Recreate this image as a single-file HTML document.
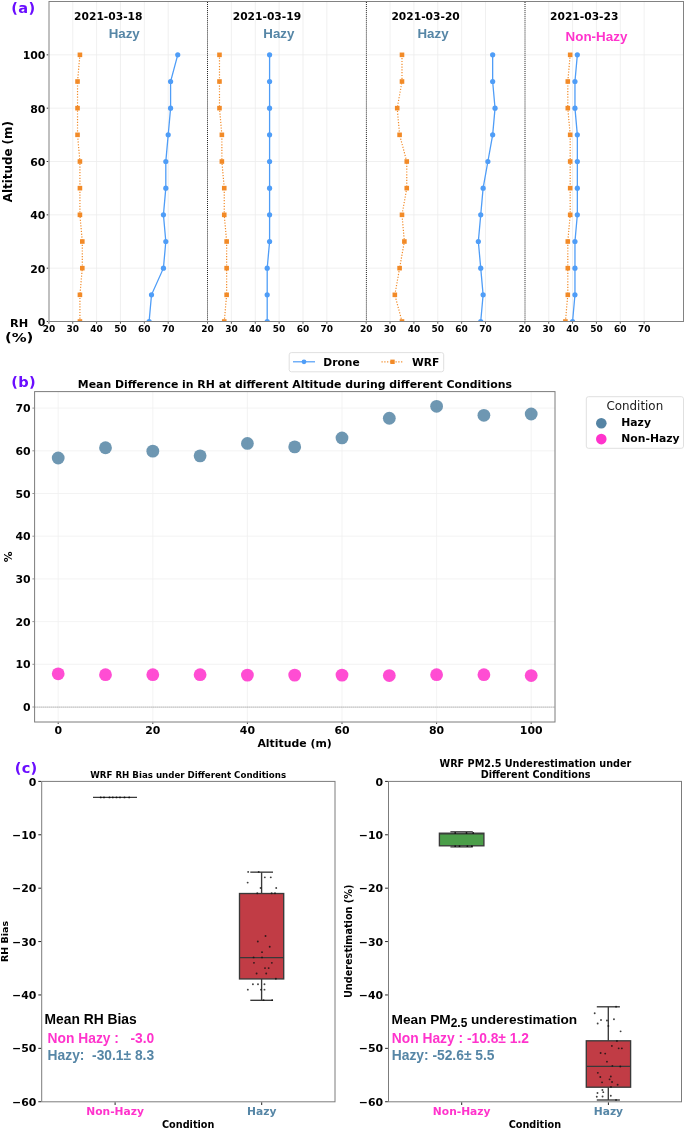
<!DOCTYPE html>
<html lang="en"><head><meta charset="utf-8"><title>RH and PM2.5 comparison figure</title>
<style>
html,body{margin:0;padding:0;background:#fff;}
body{width:685px;height:1128px;overflow:hidden;font-family:"DejaVu Sans","Liberation Sans",sans-serif;}
svg{display:block;}
</style></head><body>
<svg width="685" height="1128" viewBox="0 0 685 1128">
<rect x="0" y="0" width="685" height="1128" fill="#ffffff"/>
<clipPath id="ca"><rect x="48.9" y="1.5" width="634.60" height="320.00"/></clipPath>
<line x1="72.76" y1="1.50" x2="72.76" y2="321.50" stroke="#ececec" stroke-width="0.8" />
<line x1="96.62" y1="1.50" x2="96.62" y2="321.50" stroke="#ececec" stroke-width="0.8" />
<line x1="120.48" y1="1.50" x2="120.48" y2="321.50" stroke="#ececec" stroke-width="0.8" />
<line x1="144.34" y1="1.50" x2="144.34" y2="321.50" stroke="#ececec" stroke-width="0.8" />
<line x1="168.20" y1="1.50" x2="168.20" y2="321.50" stroke="#ececec" stroke-width="0.8" />
<line x1="231.41" y1="1.50" x2="231.41" y2="321.50" stroke="#ececec" stroke-width="0.8" />
<line x1="255.27" y1="1.50" x2="255.27" y2="321.50" stroke="#ececec" stroke-width="0.8" />
<line x1="279.13" y1="1.50" x2="279.13" y2="321.50" stroke="#ececec" stroke-width="0.8" />
<line x1="302.99" y1="1.50" x2="302.99" y2="321.50" stroke="#ececec" stroke-width="0.8" />
<line x1="326.85" y1="1.50" x2="326.85" y2="321.50" stroke="#ececec" stroke-width="0.8" />
<line x1="390.06" y1="1.50" x2="390.06" y2="321.50" stroke="#ececec" stroke-width="0.8" />
<line x1="413.92" y1="1.50" x2="413.92" y2="321.50" stroke="#ececec" stroke-width="0.8" />
<line x1="437.78" y1="1.50" x2="437.78" y2="321.50" stroke="#ececec" stroke-width="0.8" />
<line x1="461.64" y1="1.50" x2="461.64" y2="321.50" stroke="#ececec" stroke-width="0.8" />
<line x1="485.50" y1="1.50" x2="485.50" y2="321.50" stroke="#ececec" stroke-width="0.8" />
<line x1="548.71" y1="1.50" x2="548.71" y2="321.50" stroke="#ececec" stroke-width="0.8" />
<line x1="572.57" y1="1.50" x2="572.57" y2="321.50" stroke="#ececec" stroke-width="0.8" />
<line x1="596.43" y1="1.50" x2="596.43" y2="321.50" stroke="#ececec" stroke-width="0.8" />
<line x1="620.29" y1="1.50" x2="620.29" y2="321.50" stroke="#ececec" stroke-width="0.8" />
<line x1="644.15" y1="1.50" x2="644.15" y2="321.50" stroke="#ececec" stroke-width="0.8" />
<line x1="48.90" y1="268.17" x2="683.50" y2="268.17" stroke="#ececec" stroke-width="0.8" />
<line x1="48.90" y1="214.83" x2="683.50" y2="214.83" stroke="#ececec" stroke-width="0.8" />
<line x1="48.90" y1="161.50" x2="683.50" y2="161.50" stroke="#ececec" stroke-width="0.8" />
<line x1="48.90" y1="108.16" x2="683.50" y2="108.16" stroke="#ececec" stroke-width="0.8" />
<line x1="48.90" y1="54.83" x2="683.50" y2="54.83" stroke="#ececec" stroke-width="0.8" />
<g clip-path="url(#ca)">
<polyline points="79.92,321.50 79.92,294.83 82.30,268.17 82.30,241.50 79.92,214.83 79.92,188.16 79.92,161.50 77.53,134.83 77.53,108.16 77.53,81.50 79.92,54.83" fill="none" stroke="#f28a27" stroke-width="1.2" stroke-dasharray="1.2 1.6"/>
<rect x="77.62" y="319.20" width="4.6" height="4.6" fill="#f28a27"/>
<rect x="77.62" y="292.53" width="4.6" height="4.6" fill="#f28a27"/>
<rect x="80.00" y="265.87" width="4.6" height="4.6" fill="#f28a27"/>
<rect x="80.00" y="239.20" width="4.6" height="4.6" fill="#f28a27"/>
<rect x="77.62" y="212.53" width="4.6" height="4.6" fill="#f28a27"/>
<rect x="77.62" y="185.86" width="4.6" height="4.6" fill="#f28a27"/>
<rect x="77.62" y="159.20" width="4.6" height="4.6" fill="#f28a27"/>
<rect x="75.23" y="132.53" width="4.6" height="4.6" fill="#f28a27"/>
<rect x="75.23" y="105.86" width="4.6" height="4.6" fill="#f28a27"/>
<rect x="75.23" y="79.20" width="4.6" height="4.6" fill="#f28a27"/>
<rect x="77.62" y="52.53" width="4.6" height="4.6" fill="#f28a27"/>
<polyline points="149.11,321.50 151.50,294.83 163.43,268.17 165.81,241.50 163.43,214.83 165.81,188.16 165.81,161.50 168.20,134.83 170.59,108.16 170.59,81.50 177.74,54.83" fill="none" stroke="#4f9df7" stroke-width="1.3"/>
<circle cx="149.11" cy="321.50" r="2.6" fill="#4f9df7"/>
<circle cx="151.50" cy="294.83" r="2.6" fill="#4f9df7"/>
<circle cx="163.43" cy="268.17" r="2.6" fill="#4f9df7"/>
<circle cx="165.81" cy="241.50" r="2.6" fill="#4f9df7"/>
<circle cx="163.43" cy="214.83" r="2.6" fill="#4f9df7"/>
<circle cx="165.81" cy="188.16" r="2.6" fill="#4f9df7"/>
<circle cx="165.81" cy="161.50" r="2.6" fill="#4f9df7"/>
<circle cx="168.20" cy="134.83" r="2.6" fill="#4f9df7"/>
<circle cx="170.59" cy="108.16" r="2.6" fill="#4f9df7"/>
<circle cx="170.59" cy="81.50" r="2.6" fill="#4f9df7"/>
<circle cx="177.74" cy="54.83" r="2.6" fill="#4f9df7"/>
<polyline points="224.25,321.50 226.64,294.83 226.64,268.17 226.64,241.50 224.25,214.83 224.25,188.16 221.87,161.50 221.87,134.83 219.48,108.16 219.48,81.50 219.48,54.83" fill="none" stroke="#f28a27" stroke-width="1.2" stroke-dasharray="1.2 1.6"/>
<rect x="221.95" y="319.20" width="4.6" height="4.6" fill="#f28a27"/>
<rect x="224.34" y="292.53" width="4.6" height="4.6" fill="#f28a27"/>
<rect x="224.34" y="265.87" width="4.6" height="4.6" fill="#f28a27"/>
<rect x="224.34" y="239.20" width="4.6" height="4.6" fill="#f28a27"/>
<rect x="221.95" y="212.53" width="4.6" height="4.6" fill="#f28a27"/>
<rect x="221.95" y="185.86" width="4.6" height="4.6" fill="#f28a27"/>
<rect x="219.57" y="159.20" width="4.6" height="4.6" fill="#f28a27"/>
<rect x="219.57" y="132.53" width="4.6" height="4.6" fill="#f28a27"/>
<rect x="217.18" y="105.86" width="4.6" height="4.6" fill="#f28a27"/>
<rect x="217.18" y="79.20" width="4.6" height="4.6" fill="#f28a27"/>
<rect x="217.18" y="52.53" width="4.6" height="4.6" fill="#f28a27"/>
<polyline points="267.20,321.50 267.20,294.83 267.20,268.17 269.59,241.50 269.59,214.83 269.59,188.16 269.59,161.50 269.59,134.83 269.59,108.16 269.59,81.50 269.59,54.83" fill="none" stroke="#4f9df7" stroke-width="1.3"/>
<circle cx="267.20" cy="321.50" r="2.6" fill="#4f9df7"/>
<circle cx="267.20" cy="294.83" r="2.6" fill="#4f9df7"/>
<circle cx="267.20" cy="268.17" r="2.6" fill="#4f9df7"/>
<circle cx="269.59" cy="241.50" r="2.6" fill="#4f9df7"/>
<circle cx="269.59" cy="214.83" r="2.6" fill="#4f9df7"/>
<circle cx="269.59" cy="188.16" r="2.6" fill="#4f9df7"/>
<circle cx="269.59" cy="161.50" r="2.6" fill="#4f9df7"/>
<circle cx="269.59" cy="134.83" r="2.6" fill="#4f9df7"/>
<circle cx="269.59" cy="108.16" r="2.6" fill="#4f9df7"/>
<circle cx="269.59" cy="81.50" r="2.6" fill="#4f9df7"/>
<circle cx="269.59" cy="54.83" r="2.6" fill="#4f9df7"/>
<polyline points="401.99,321.50 394.83,294.83 399.60,268.17 404.38,241.50 401.99,214.83 406.76,188.16 406.76,161.50 399.60,134.83 397.22,108.16 401.99,81.50 401.99,54.83" fill="none" stroke="#f28a27" stroke-width="1.2" stroke-dasharray="1.2 1.6"/>
<rect x="399.69" y="319.20" width="4.6" height="4.6" fill="#f28a27"/>
<rect x="392.53" y="292.53" width="4.6" height="4.6" fill="#f28a27"/>
<rect x="397.30" y="265.87" width="4.6" height="4.6" fill="#f28a27"/>
<rect x="402.08" y="239.20" width="4.6" height="4.6" fill="#f28a27"/>
<rect x="399.69" y="212.53" width="4.6" height="4.6" fill="#f28a27"/>
<rect x="404.46" y="185.86" width="4.6" height="4.6" fill="#f28a27"/>
<rect x="404.46" y="159.20" width="4.6" height="4.6" fill="#f28a27"/>
<rect x="397.30" y="132.53" width="4.6" height="4.6" fill="#f28a27"/>
<rect x="394.92" y="105.86" width="4.6" height="4.6" fill="#f28a27"/>
<rect x="399.69" y="79.20" width="4.6" height="4.6" fill="#f28a27"/>
<rect x="399.69" y="52.53" width="4.6" height="4.6" fill="#f28a27"/>
<polyline points="480.73,321.50 483.11,294.83 480.73,268.17 478.34,241.50 480.73,214.83 483.11,188.16 487.89,161.50 492.66,134.83 495.04,108.16 492.66,81.50 492.66,54.83" fill="none" stroke="#4f9df7" stroke-width="1.3"/>
<circle cx="480.73" cy="321.50" r="2.6" fill="#4f9df7"/>
<circle cx="483.11" cy="294.83" r="2.6" fill="#4f9df7"/>
<circle cx="480.73" cy="268.17" r="2.6" fill="#4f9df7"/>
<circle cx="478.34" cy="241.50" r="2.6" fill="#4f9df7"/>
<circle cx="480.73" cy="214.83" r="2.6" fill="#4f9df7"/>
<circle cx="483.11" cy="188.16" r="2.6" fill="#4f9df7"/>
<circle cx="487.89" cy="161.50" r="2.6" fill="#4f9df7"/>
<circle cx="492.66" cy="134.83" r="2.6" fill="#4f9df7"/>
<circle cx="495.04" cy="108.16" r="2.6" fill="#4f9df7"/>
<circle cx="492.66" cy="81.50" r="2.6" fill="#4f9df7"/>
<circle cx="492.66" cy="54.83" r="2.6" fill="#4f9df7"/>
<polyline points="565.41,321.50 567.80,294.83 567.80,268.17 567.80,241.50 570.18,214.83 570.18,188.16 570.18,161.50 570.18,134.83 567.80,108.16 567.80,81.50 570.18,54.83" fill="none" stroke="#f28a27" stroke-width="1.2" stroke-dasharray="1.2 1.6"/>
<rect x="563.11" y="319.20" width="4.6" height="4.6" fill="#f28a27"/>
<rect x="565.50" y="292.53" width="4.6" height="4.6" fill="#f28a27"/>
<rect x="565.50" y="265.87" width="4.6" height="4.6" fill="#f28a27"/>
<rect x="565.50" y="239.20" width="4.6" height="4.6" fill="#f28a27"/>
<rect x="567.88" y="212.53" width="4.6" height="4.6" fill="#f28a27"/>
<rect x="567.88" y="185.86" width="4.6" height="4.6" fill="#f28a27"/>
<rect x="567.88" y="159.20" width="4.6" height="4.6" fill="#f28a27"/>
<rect x="567.88" y="132.53" width="4.6" height="4.6" fill="#f28a27"/>
<rect x="565.50" y="105.86" width="4.6" height="4.6" fill="#f28a27"/>
<rect x="565.50" y="79.20" width="4.6" height="4.6" fill="#f28a27"/>
<rect x="567.88" y="52.53" width="4.6" height="4.6" fill="#f28a27"/>
<polyline points="572.57,321.50 574.96,294.83 574.96,268.17 574.96,241.50 577.34,214.83 577.34,188.16 577.34,161.50 577.34,134.83 574.96,108.16 574.96,81.50 577.34,54.83" fill="none" stroke="#4f9df7" stroke-width="1.3"/>
<circle cx="572.57" cy="321.50" r="2.6" fill="#4f9df7"/>
<circle cx="574.96" cy="294.83" r="2.6" fill="#4f9df7"/>
<circle cx="574.96" cy="268.17" r="2.6" fill="#4f9df7"/>
<circle cx="574.96" cy="241.50" r="2.6" fill="#4f9df7"/>
<circle cx="577.34" cy="214.83" r="2.6" fill="#4f9df7"/>
<circle cx="577.34" cy="188.16" r="2.6" fill="#4f9df7"/>
<circle cx="577.34" cy="161.50" r="2.6" fill="#4f9df7"/>
<circle cx="577.34" cy="134.83" r="2.6" fill="#4f9df7"/>
<circle cx="574.96" cy="108.16" r="2.6" fill="#4f9df7"/>
<circle cx="574.96" cy="81.50" r="2.6" fill="#4f9df7"/>
<circle cx="577.34" cy="54.83" r="2.6" fill="#4f9df7"/>
</g>
<line x1="207.50" y1="2.00" x2="207.50" y2="321.50" stroke="#1e1e1e" stroke-width="1.0" stroke-dasharray="1 1.03"/>
<line x1="366.40" y1="2.00" x2="366.40" y2="321.50" stroke="#1e1e1e" stroke-width="1.0" stroke-dasharray="1 1.03"/>
<line x1="525.00" y1="2.00" x2="525.00" y2="321.50" stroke="#1e1e1e" stroke-width="1.0" stroke-dasharray="1 1.03"/>
<rect x="49.0" y="1.5" width="634.50" height="320.00" fill="none" stroke="#828282" stroke-width="1.0"/>
<line x1="46.70" y1="321.50" x2="48.20" y2="321.50" stroke="#222" stroke-width="0.9" />
<text x="45.40" y="326.00" font-size="10.9" text-anchor="end" fill="#000" font-family='"DejaVu Sans", "Liberation Sans", sans-serif' font-weight="bold" >0</text>
<line x1="46.70" y1="268.17" x2="48.20" y2="268.17" stroke="#222" stroke-width="0.9" />
<text x="45.40" y="272.67" font-size="10.9" text-anchor="end" fill="#000" font-family='"DejaVu Sans", "Liberation Sans", sans-serif' font-weight="bold" >20</text>
<line x1="46.70" y1="214.83" x2="48.20" y2="214.83" stroke="#222" stroke-width="0.9" />
<text x="45.40" y="219.33" font-size="10.9" text-anchor="end" fill="#000" font-family='"DejaVu Sans", "Liberation Sans", sans-serif' font-weight="bold" >40</text>
<line x1="46.70" y1="161.50" x2="48.20" y2="161.50" stroke="#222" stroke-width="0.9" />
<text x="45.40" y="166.00" font-size="10.9" text-anchor="end" fill="#000" font-family='"DejaVu Sans", "Liberation Sans", sans-serif' font-weight="bold" >60</text>
<line x1="46.70" y1="108.16" x2="48.20" y2="108.16" stroke="#222" stroke-width="0.9" />
<text x="45.40" y="112.66" font-size="10.9" text-anchor="end" fill="#000" font-family='"DejaVu Sans", "Liberation Sans", sans-serif' font-weight="bold" >80</text>
<line x1="46.70" y1="54.83" x2="48.20" y2="54.83" stroke="#222" stroke-width="0.9" />
<text x="45.40" y="59.33" font-size="10.9" text-anchor="end" fill="#000" font-family='"DejaVu Sans", "Liberation Sans", sans-serif' font-weight="bold" >100</text>
<text x="48.90" y="332.40" font-size="9.0" text-anchor="middle" fill="#000" font-family='"DejaVu Sans", "Liberation Sans", sans-serif' font-weight="bold" >20</text>
<line x1="48.90" y1="322.10" x2="48.90" y2="323.70" stroke="#222" stroke-width="0.8" />
<text x="72.76" y="332.40" font-size="9.0" text-anchor="middle" fill="#000" font-family='"DejaVu Sans", "Liberation Sans", sans-serif' font-weight="bold" >30</text>
<line x1="72.76" y1="322.10" x2="72.76" y2="323.70" stroke="#222" stroke-width="0.8" />
<text x="96.62" y="332.40" font-size="9.0" text-anchor="middle" fill="#000" font-family='"DejaVu Sans", "Liberation Sans", sans-serif' font-weight="bold" >40</text>
<line x1="96.62" y1="322.10" x2="96.62" y2="323.70" stroke="#222" stroke-width="0.8" />
<text x="120.48" y="332.40" font-size="9.0" text-anchor="middle" fill="#000" font-family='"DejaVu Sans", "Liberation Sans", sans-serif' font-weight="bold" >50</text>
<line x1="120.48" y1="322.10" x2="120.48" y2="323.70" stroke="#222" stroke-width="0.8" />
<text x="144.34" y="332.40" font-size="9.0" text-anchor="middle" fill="#000" font-family='"DejaVu Sans", "Liberation Sans", sans-serif' font-weight="bold" >60</text>
<line x1="144.34" y1="322.10" x2="144.34" y2="323.70" stroke="#222" stroke-width="0.8" />
<text x="168.20" y="332.40" font-size="9.0" text-anchor="middle" fill="#000" font-family='"DejaVu Sans", "Liberation Sans", sans-serif' font-weight="bold" >70</text>
<line x1="168.20" y1="322.10" x2="168.20" y2="323.70" stroke="#222" stroke-width="0.8" />
<text x="207.55" y="332.40" font-size="9.0" text-anchor="middle" fill="#000" font-family='"DejaVu Sans", "Liberation Sans", sans-serif' font-weight="bold" >20</text>
<line x1="207.55" y1="322.10" x2="207.55" y2="323.70" stroke="#222" stroke-width="0.8" />
<text x="231.41" y="332.40" font-size="9.0" text-anchor="middle" fill="#000" font-family='"DejaVu Sans", "Liberation Sans", sans-serif' font-weight="bold" >30</text>
<line x1="231.41" y1="322.10" x2="231.41" y2="323.70" stroke="#222" stroke-width="0.8" />
<text x="255.27" y="332.40" font-size="9.0" text-anchor="middle" fill="#000" font-family='"DejaVu Sans", "Liberation Sans", sans-serif' font-weight="bold" >40</text>
<line x1="255.27" y1="322.10" x2="255.27" y2="323.70" stroke="#222" stroke-width="0.8" />
<text x="279.13" y="332.40" font-size="9.0" text-anchor="middle" fill="#000" font-family='"DejaVu Sans", "Liberation Sans", sans-serif' font-weight="bold" >50</text>
<line x1="279.13" y1="322.10" x2="279.13" y2="323.70" stroke="#222" stroke-width="0.8" />
<text x="302.99" y="332.40" font-size="9.0" text-anchor="middle" fill="#000" font-family='"DejaVu Sans", "Liberation Sans", sans-serif' font-weight="bold" >60</text>
<line x1="302.99" y1="322.10" x2="302.99" y2="323.70" stroke="#222" stroke-width="0.8" />
<text x="326.85" y="332.40" font-size="9.0" text-anchor="middle" fill="#000" font-family='"DejaVu Sans", "Liberation Sans", sans-serif' font-weight="bold" >70</text>
<line x1="326.85" y1="322.10" x2="326.85" y2="323.70" stroke="#222" stroke-width="0.8" />
<text x="366.20" y="332.40" font-size="9.0" text-anchor="middle" fill="#000" font-family='"DejaVu Sans", "Liberation Sans", sans-serif' font-weight="bold" >20</text>
<line x1="366.20" y1="322.10" x2="366.20" y2="323.70" stroke="#222" stroke-width="0.8" />
<text x="390.06" y="332.40" font-size="9.0" text-anchor="middle" fill="#000" font-family='"DejaVu Sans", "Liberation Sans", sans-serif' font-weight="bold" >30</text>
<line x1="390.06" y1="322.10" x2="390.06" y2="323.70" stroke="#222" stroke-width="0.8" />
<text x="413.92" y="332.40" font-size="9.0" text-anchor="middle" fill="#000" font-family='"DejaVu Sans", "Liberation Sans", sans-serif' font-weight="bold" >40</text>
<line x1="413.92" y1="322.10" x2="413.92" y2="323.70" stroke="#222" stroke-width="0.8" />
<text x="437.78" y="332.40" font-size="9.0" text-anchor="middle" fill="#000" font-family='"DejaVu Sans", "Liberation Sans", sans-serif' font-weight="bold" >50</text>
<line x1="437.78" y1="322.10" x2="437.78" y2="323.70" stroke="#222" stroke-width="0.8" />
<text x="461.64" y="332.40" font-size="9.0" text-anchor="middle" fill="#000" font-family='"DejaVu Sans", "Liberation Sans", sans-serif' font-weight="bold" >60</text>
<line x1="461.64" y1="322.10" x2="461.64" y2="323.70" stroke="#222" stroke-width="0.8" />
<text x="485.50" y="332.40" font-size="9.0" text-anchor="middle" fill="#000" font-family='"DejaVu Sans", "Liberation Sans", sans-serif' font-weight="bold" >70</text>
<line x1="485.50" y1="322.10" x2="485.50" y2="323.70" stroke="#222" stroke-width="0.8" />
<text x="524.85" y="332.40" font-size="9.0" text-anchor="middle" fill="#000" font-family='"DejaVu Sans", "Liberation Sans", sans-serif' font-weight="bold" >20</text>
<line x1="524.85" y1="322.10" x2="524.85" y2="323.70" stroke="#222" stroke-width="0.8" />
<text x="548.71" y="332.40" font-size="9.0" text-anchor="middle" fill="#000" font-family='"DejaVu Sans", "Liberation Sans", sans-serif' font-weight="bold" >30</text>
<line x1="548.71" y1="322.10" x2="548.71" y2="323.70" stroke="#222" stroke-width="0.8" />
<text x="572.57" y="332.40" font-size="9.0" text-anchor="middle" fill="#000" font-family='"DejaVu Sans", "Liberation Sans", sans-serif' font-weight="bold" >40</text>
<line x1="572.57" y1="322.10" x2="572.57" y2="323.70" stroke="#222" stroke-width="0.8" />
<text x="596.43" y="332.40" font-size="9.0" text-anchor="middle" fill="#000" font-family='"DejaVu Sans", "Liberation Sans", sans-serif' font-weight="bold" >50</text>
<line x1="596.43" y1="322.10" x2="596.43" y2="323.70" stroke="#222" stroke-width="0.8" />
<text x="620.29" y="332.40" font-size="9.0" text-anchor="middle" fill="#000" font-family='"DejaVu Sans", "Liberation Sans", sans-serif' font-weight="bold" >60</text>
<line x1="620.29" y1="322.10" x2="620.29" y2="323.70" stroke="#222" stroke-width="0.8" />
<text x="644.15" y="332.40" font-size="9.0" text-anchor="middle" fill="#000" font-family='"DejaVu Sans", "Liberation Sans", sans-serif' font-weight="bold" >70</text>
<line x1="644.15" y1="322.10" x2="644.15" y2="323.70" stroke="#222" stroke-width="0.8" />
<text x="19.20" y="327.40" font-size="11.3" text-anchor="middle" fill="#000" font-family='"DejaVu Sans", "Liberation Sans", sans-serif' font-weight="bold" >RH</text>
<text transform="translate(19.15,341.8) scale(1.27,1)" font-size="11.7" text-anchor="middle" font-family='"DejaVu Sans", "Liberation Sans", sans-serif' font-weight="bold">(%)</text>
<text transform="translate(11.9,161.7) rotate(-90)" font-size="11.9" text-anchor="middle" font-family='"DejaVu Sans", "Liberation Sans", sans-serif' font-weight="bold">Altitude (m)</text>
<text x="11.30" y="12.60" font-size="14.6" text-anchor="start" fill="#6a0dff" font-family='"DejaVu Sans", "Liberation Sans", sans-serif' font-weight="bold" letter-spacing="0.3">(a)</text>
<text x="74.10" y="20.30" font-size="10.7" text-anchor="start" fill="#000" font-family='"DejaVu Sans", "Liberation Sans", sans-serif' font-weight="bold" >2021-03-18</text>
<text x="108.70" y="38.30" font-size="13.3" text-anchor="start" fill="#5686a6" font-family='"Liberation Sans", sans-serif' font-weight="bold" >Hazy</text>
<text x="232.75" y="20.30" font-size="10.7" text-anchor="start" fill="#000" font-family='"DejaVu Sans", "Liberation Sans", sans-serif' font-weight="bold" >2021-03-19</text>
<text x="263.30" y="38.30" font-size="13.3" text-anchor="start" fill="#5686a6" font-family='"Liberation Sans", sans-serif' font-weight="bold" >Hazy</text>
<text x="391.40" y="20.30" font-size="10.7" text-anchor="start" fill="#000" font-family='"DejaVu Sans", "Liberation Sans", sans-serif' font-weight="bold" >2021-03-20</text>
<text x="417.50" y="38.30" font-size="13.3" text-anchor="start" fill="#5686a6" font-family='"Liberation Sans", sans-serif' font-weight="bold" >Hazy</text>
<text x="550.05" y="20.30" font-size="10.7" text-anchor="start" fill="#000" font-family='"DejaVu Sans", "Liberation Sans", sans-serif' font-weight="bold" >2021-03-23</text>
<text x="565.60" y="40.60" font-size="13.4" text-anchor="start" fill="#ff33cc" font-family='"Liberation Sans", sans-serif' font-weight="bold" >Non-Hazy</text>
<rect x="289.2" y="352.6" width="154.5" height="19.2" rx="2.2" fill="#fff" stroke="#dcdcdc" stroke-width="0.9"/>
<line x1="293.00" y1="361.80" x2="315.00" y2="361.80" stroke="#4f9df7" stroke-width="1.2" />
<circle cx="304" cy="361.8" r="2.4" fill="#4f9df7"/>
<text x="323.30" y="365.70" font-size="10.7" text-anchor="start" fill="#000" font-family='"DejaVu Sans", "Liberation Sans", sans-serif' font-weight="bold" >Drone</text>
<line x1="381.50" y1="361.80" x2="403.50" y2="361.80" stroke="#f28a27" stroke-width="1.2" stroke-dasharray="1.2 1.6"/>
<rect x="390.3" y="359.6" width="4.4" height="4.4" fill="#f28a27"/>
<text x="412.00" y="365.70" font-size="10.7" text-anchor="start" fill="#000" font-family='"DejaVu Sans", "Liberation Sans", sans-serif' font-weight="bold" >WRF</text>
<line x1="58.20" y1="391.60" x2="58.20" y2="722.00" stroke="#f0f0f0" stroke-width="0.8" />
<line x1="152.80" y1="391.60" x2="152.80" y2="722.00" stroke="#f0f0f0" stroke-width="0.8" />
<line x1="247.40" y1="391.60" x2="247.40" y2="722.00" stroke="#f0f0f0" stroke-width="0.8" />
<line x1="342.00" y1="391.60" x2="342.00" y2="722.00" stroke="#f0f0f0" stroke-width="0.8" />
<line x1="436.60" y1="391.60" x2="436.60" y2="722.00" stroke="#f0f0f0" stroke-width="0.8" />
<line x1="531.20" y1="391.60" x2="531.20" y2="722.00" stroke="#f0f0f0" stroke-width="0.8" />
<line x1="34.60" y1="664.30" x2="555.00" y2="664.30" stroke="#f0f0f0" stroke-width="0.8" />
<line x1="34.60" y1="621.60" x2="555.00" y2="621.60" stroke="#f0f0f0" stroke-width="0.8" />
<line x1="34.60" y1="578.90" x2="555.00" y2="578.90" stroke="#f0f0f0" stroke-width="0.8" />
<line x1="34.60" y1="536.20" x2="555.00" y2="536.20" stroke="#f0f0f0" stroke-width="0.8" />
<line x1="34.60" y1="493.50" x2="555.00" y2="493.50" stroke="#f0f0f0" stroke-width="0.8" />
<line x1="34.60" y1="450.80" x2="555.00" y2="450.80" stroke="#f0f0f0" stroke-width="0.8" />
<line x1="34.60" y1="408.10" x2="555.00" y2="408.10" stroke="#f0f0f0" stroke-width="0.8" />
<line x1="34.60" y1="707.10" x2="555.00" y2="707.10" stroke="#7a7a7a" stroke-width="1.0" stroke-dasharray="1 1"/>
<circle cx="58.20" cy="457.98" r="6.4" fill="#5585a5" fill-opacity="0.85"/>
<circle cx="58.20" cy="673.82" r="6.4" fill="#ff33cc" fill-opacity="0.87"/>
<circle cx="105.50" cy="447.73" r="6.4" fill="#5585a5" fill-opacity="0.85"/>
<circle cx="105.50" cy="674.68" r="6.4" fill="#ff33cc" fill-opacity="0.87"/>
<circle cx="152.80" cy="451.15" r="6.4" fill="#5585a5" fill-opacity="0.85"/>
<circle cx="152.80" cy="674.68" r="6.4" fill="#ff33cc" fill-opacity="0.87"/>
<circle cx="200.10" cy="455.85" r="6.4" fill="#5585a5" fill-opacity="0.85"/>
<circle cx="200.10" cy="674.68" r="6.4" fill="#ff33cc" fill-opacity="0.87"/>
<circle cx="247.40" cy="443.46" r="6.4" fill="#5585a5" fill-opacity="0.85"/>
<circle cx="247.40" cy="675.10" r="6.4" fill="#ff33cc" fill-opacity="0.87"/>
<circle cx="294.70" cy="446.88" r="6.4" fill="#5585a5" fill-opacity="0.85"/>
<circle cx="294.70" cy="675.10" r="6.4" fill="#ff33cc" fill-opacity="0.87"/>
<circle cx="342.00" cy="437.91" r="6.4" fill="#5585a5" fill-opacity="0.85"/>
<circle cx="342.00" cy="675.10" r="6.4" fill="#ff33cc" fill-opacity="0.87"/>
<circle cx="389.30" cy="418.27" r="6.4" fill="#5585a5" fill-opacity="0.85"/>
<circle cx="389.30" cy="675.53" r="6.4" fill="#ff33cc" fill-opacity="0.87"/>
<circle cx="436.60" cy="406.32" r="6.4" fill="#5585a5" fill-opacity="0.85"/>
<circle cx="436.60" cy="674.68" r="6.4" fill="#ff33cc" fill-opacity="0.87"/>
<circle cx="483.90" cy="415.28" r="6.4" fill="#5585a5" fill-opacity="0.85"/>
<circle cx="483.90" cy="674.68" r="6.4" fill="#ff33cc" fill-opacity="0.87"/>
<circle cx="531.20" cy="414.00" r="6.4" fill="#5585a5" fill-opacity="0.85"/>
<circle cx="531.20" cy="675.53" r="6.4" fill="#ff33cc" fill-opacity="0.87"/>
<rect x="34.6" y="391.6" width="520.40" height="330.40" fill="none" stroke="#7c7c7c" stroke-width="1.0"/>
<line x1="32.40" y1="707.00" x2="34.00" y2="707.00" stroke="#888" stroke-width="0.9" />
<text x="30.60" y="711.10" font-size="10.9" text-anchor="end" fill="#000" font-family='"DejaVu Sans", "Liberation Sans", sans-serif' font-weight="bold" >0</text>
<line x1="32.40" y1="664.30" x2="34.00" y2="664.30" stroke="#888" stroke-width="0.9" />
<text x="30.60" y="668.40" font-size="10.9" text-anchor="end" fill="#000" font-family='"DejaVu Sans", "Liberation Sans", sans-serif' font-weight="bold" >10</text>
<line x1="32.40" y1="621.60" x2="34.00" y2="621.60" stroke="#888" stroke-width="0.9" />
<text x="30.60" y="625.70" font-size="10.9" text-anchor="end" fill="#000" font-family='"DejaVu Sans", "Liberation Sans", sans-serif' font-weight="bold" >20</text>
<line x1="32.40" y1="578.90" x2="34.00" y2="578.90" stroke="#888" stroke-width="0.9" />
<text x="30.60" y="583.00" font-size="10.9" text-anchor="end" fill="#000" font-family='"DejaVu Sans", "Liberation Sans", sans-serif' font-weight="bold" >30</text>
<line x1="32.40" y1="536.20" x2="34.00" y2="536.20" stroke="#888" stroke-width="0.9" />
<text x="30.60" y="540.30" font-size="10.9" text-anchor="end" fill="#000" font-family='"DejaVu Sans", "Liberation Sans", sans-serif' font-weight="bold" >40</text>
<line x1="32.40" y1="493.50" x2="34.00" y2="493.50" stroke="#888" stroke-width="0.9" />
<text x="30.60" y="497.60" font-size="10.9" text-anchor="end" fill="#000" font-family='"DejaVu Sans", "Liberation Sans", sans-serif' font-weight="bold" >50</text>
<line x1="32.40" y1="450.80" x2="34.00" y2="450.80" stroke="#888" stroke-width="0.9" />
<text x="30.60" y="454.90" font-size="10.9" text-anchor="end" fill="#000" font-family='"DejaVu Sans", "Liberation Sans", sans-serif' font-weight="bold" >60</text>
<line x1="32.40" y1="408.10" x2="34.00" y2="408.10" stroke="#888" stroke-width="0.9" />
<text x="30.60" y="412.20" font-size="10.9" text-anchor="end" fill="#000" font-family='"DejaVu Sans", "Liberation Sans", sans-serif' font-weight="bold" >70</text>
<line x1="58.20" y1="722.60" x2="58.20" y2="724.00" stroke="#333" stroke-width="0.9" />
<text x="58.20" y="733.90" font-size="10.9" text-anchor="middle" fill="#000" font-family='"DejaVu Sans", "Liberation Sans", sans-serif' font-weight="bold" >0</text>
<line x1="152.80" y1="722.60" x2="152.80" y2="724.00" stroke="#333" stroke-width="0.9" />
<text x="152.80" y="733.90" font-size="10.9" text-anchor="middle" fill="#000" font-family='"DejaVu Sans", "Liberation Sans", sans-serif' font-weight="bold" >20</text>
<line x1="247.40" y1="722.60" x2="247.40" y2="724.00" stroke="#333" stroke-width="0.9" />
<text x="247.40" y="733.90" font-size="10.9" text-anchor="middle" fill="#000" font-family='"DejaVu Sans", "Liberation Sans", sans-serif' font-weight="bold" >40</text>
<line x1="342.00" y1="722.60" x2="342.00" y2="724.00" stroke="#333" stroke-width="0.9" />
<text x="342.00" y="733.90" font-size="10.9" text-anchor="middle" fill="#000" font-family='"DejaVu Sans", "Liberation Sans", sans-serif' font-weight="bold" >60</text>
<line x1="436.60" y1="722.60" x2="436.60" y2="724.00" stroke="#333" stroke-width="0.9" />
<text x="436.60" y="733.90" font-size="10.9" text-anchor="middle" fill="#000" font-family='"DejaVu Sans", "Liberation Sans", sans-serif' font-weight="bold" >80</text>
<line x1="531.20" y1="722.60" x2="531.20" y2="724.00" stroke="#333" stroke-width="0.9" />
<text x="531.20" y="733.90" font-size="10.9" text-anchor="middle" fill="#000" font-family='"DejaVu Sans", "Liberation Sans", sans-serif' font-weight="bold" >100</text>
<text x="294.60" y="746.80" font-size="10.9" text-anchor="middle" fill="#000" font-family='"DejaVu Sans", "Liberation Sans", sans-serif' font-weight="bold" >Altitude (m)</text>
<text transform="translate(11.6,556.8) rotate(-90)" font-size="10.9" text-anchor="middle" font-family='"DejaVu Sans", "Liberation Sans", sans-serif' font-weight="bold">%</text>
<text x="11.20" y="387.00" font-size="14.6" text-anchor="start" fill="#6a0dff" font-family='"DejaVu Sans", "Liberation Sans", sans-serif' font-weight="bold" letter-spacing="0.3">(b)</text>
<text x="294.90" y="387.80" font-size="10.9" text-anchor="middle" fill="#000" font-family='"DejaVu Sans", "Liberation Sans", sans-serif' font-weight="bold" >Mean Difference in RH at different Altitude during different Conditions</text>
<rect x="586.3" y="396.7" width="97.2" height="51.6" rx="2.2" fill="#fff" stroke="#dcdcdc" stroke-width="0.9"/>
<text x="634.80" y="409.90" font-size="11.9" text-anchor="middle" fill="#1a1a1a" font-family='"DejaVu Sans", "Liberation Sans", sans-serif' font-weight="normal" >Condition</text>
<circle cx="601.3" cy="423.2" r="5.3" fill="#5584a4"/>
<circle cx="601.3" cy="439.1" r="5.3" fill="#ff33cc"/>
<text x="621.30" y="426.40" font-size="10.8" text-anchor="start" fill="#000" font-family='"DejaVu Sans", "Liberation Sans", sans-serif' font-weight="bold" >Hazy</text>
<text x="621.30" y="442.40" font-size="10.8" text-anchor="start" fill="#000" font-family='"DejaVu Sans", "Liberation Sans", sans-serif' font-weight="bold" >Non-Hazy</text>
<line x1="93.00" y1="797.42" x2="137.00" y2="797.42" stroke="#393939" stroke-width="1.35" />
<circle cx="100.70" cy="797.42" r="0.95" fill="#111"/>
<circle cx="104.00" cy="797.42" r="0.95" fill="#111"/>
<circle cx="109.50" cy="797.42" r="0.95" fill="#111"/>
<circle cx="112.80" cy="797.42" r="0.95" fill="#111"/>
<circle cx="116.50" cy="797.42" r="0.95" fill="#111"/>
<circle cx="120.00" cy="797.42" r="0.95" fill="#111"/>
<circle cx="124.50" cy="797.42" r="0.95" fill="#111"/>
<circle cx="129.20" cy="797.42" r="0.95" fill="#111"/>
<line x1="261.60" y1="872.16" x2="261.60" y2="893.52" stroke="#393939" stroke-width="1.35" />
<line x1="261.60" y1="978.94" x2="261.60" y2="1000.30" stroke="#393939" stroke-width="1.35" />
<line x1="250.30" y1="872.16" x2="273.00" y2="872.16" stroke="#393939" stroke-width="1.35" />
<line x1="250.30" y1="1000.30" x2="273.00" y2="1000.30" stroke="#393939" stroke-width="1.35" />
<rect x="239.5" y="893.52" width="44.2" height="85.42" fill="#c13c45" stroke="#393939" stroke-width="1.35"/>
<line x1="239.50" y1="957.59" x2="283.70" y2="957.59" stroke="#393939" stroke-width="1.35" />
<circle cx="248.18" cy="871.91" r="0.95" fill="#111" fill-opacity="0.8"/>
<circle cx="258.69" cy="871.91" r="0.95" fill="#111" fill-opacity="0.8"/>
<circle cx="264.82" cy="877.34" r="0.95" fill="#111" fill-opacity="0.8"/>
<circle cx="270.78" cy="877.34" r="0.95" fill="#111" fill-opacity="0.8"/>
<circle cx="247.65" cy="882.60" r="0.95" fill="#111" fill-opacity="0.8"/>
<circle cx="260.62" cy="888.03" r="0.95" fill="#111" fill-opacity="0.8"/>
<circle cx="276.21" cy="888.03" r="0.95" fill="#111" fill-opacity="0.8"/>
<circle cx="257.29" cy="893.29" r="0.95" fill="#111" fill-opacity="0.8"/>
<circle cx="271.65" cy="893.29" r="0.95" fill="#111" fill-opacity="0.8"/>
<circle cx="274.98" cy="893.29" r="0.95" fill="#111" fill-opacity="0.8"/>
<circle cx="265.52" cy="936.03" r="0.95" fill="#111" fill-opacity="0.8"/>
<circle cx="257.81" cy="941.46" r="0.95" fill="#111" fill-opacity="0.8"/>
<circle cx="269.73" cy="946.72" r="0.95" fill="#111" fill-opacity="0.8"/>
<circle cx="262.02" cy="952.15" r="0.95" fill="#111" fill-opacity="0.8"/>
<circle cx="253.61" cy="957.41" r="0.95" fill="#111" fill-opacity="0.8"/>
<circle cx="262.02" cy="957.41" r="0.95" fill="#111" fill-opacity="0.8"/>
<circle cx="253.96" cy="962.84" r="0.95" fill="#111" fill-opacity="0.8"/>
<circle cx="271.83" cy="962.84" r="0.95" fill="#111" fill-opacity="0.8"/>
<circle cx="265.00" cy="968.09" r="0.95" fill="#111" fill-opacity="0.8"/>
<circle cx="268.68" cy="968.09" r="0.95" fill="#111" fill-opacity="0.8"/>
<circle cx="256.59" cy="973.52" r="0.95" fill="#111" fill-opacity="0.8"/>
<circle cx="266.22" cy="973.52" r="0.95" fill="#111" fill-opacity="0.8"/>
<circle cx="275.86" cy="978.78" r="0.95" fill="#111" fill-opacity="0.8"/>
<circle cx="252.91" cy="984.21" r="0.95" fill="#111" fill-opacity="0.8"/>
<circle cx="257.99" cy="984.21" r="0.95" fill="#111" fill-opacity="0.8"/>
<circle cx="264.47" cy="984.21" r="0.95" fill="#111" fill-opacity="0.8"/>
<circle cx="247.83" cy="989.64" r="0.95" fill="#111" fill-opacity="0.8"/>
<circle cx="260.97" cy="989.64" r="0.95" fill="#111" fill-opacity="0.8"/>
<circle cx="264.47" cy="989.64" r="0.95" fill="#111" fill-opacity="0.8"/>
<circle cx="263.59" cy="1000.15" r="0.95" fill="#111" fill-opacity="0.8"/>
<circle cx="272.18" cy="1000.15" r="0.95" fill="#111" fill-opacity="0.8"/>
<rect x="41.7" y="781.4" width="293.30" height="320.40" fill="none" stroke="#7c7c7c" stroke-width="1.0"/>
<line x1="38.30" y1="781.40" x2="41.10" y2="781.40" stroke="#222" stroke-width="1.0" />
<text x="36.30" y="785.50" font-size="10.9" text-anchor="end" fill="#000" font-family='"DejaVu Sans", "Liberation Sans", sans-serif' font-weight="bold" >0</text>
<line x1="38.30" y1="834.79" x2="41.10" y2="834.79" stroke="#222" stroke-width="1.0" />
<text x="36.30" y="838.89" font-size="10.9" text-anchor="end" fill="#000" font-family='"DejaVu Sans", "Liberation Sans", sans-serif' font-weight="bold" >−10</text>
<line x1="38.30" y1="888.18" x2="41.10" y2="888.18" stroke="#222" stroke-width="1.0" />
<text x="36.30" y="892.28" font-size="10.9" text-anchor="end" fill="#000" font-family='"DejaVu Sans", "Liberation Sans", sans-serif' font-weight="bold" >−20</text>
<line x1="38.30" y1="941.57" x2="41.10" y2="941.57" stroke="#222" stroke-width="1.0" />
<text x="36.30" y="945.67" font-size="10.9" text-anchor="end" fill="#000" font-family='"DejaVu Sans", "Liberation Sans", sans-serif' font-weight="bold" >−30</text>
<line x1="38.30" y1="994.96" x2="41.10" y2="994.96" stroke="#222" stroke-width="1.0" />
<text x="36.30" y="999.06" font-size="10.9" text-anchor="end" fill="#000" font-family='"DejaVu Sans", "Liberation Sans", sans-serif' font-weight="bold" >−40</text>
<line x1="38.30" y1="1048.35" x2="41.10" y2="1048.35" stroke="#222" stroke-width="1.0" />
<text x="36.30" y="1052.45" font-size="10.9" text-anchor="end" fill="#000" font-family='"DejaVu Sans", "Liberation Sans", sans-serif' font-weight="bold" >−50</text>
<line x1="38.30" y1="1101.74" x2="41.10" y2="1101.74" stroke="#222" stroke-width="1.0" />
<text x="36.30" y="1105.84" font-size="10.9" text-anchor="end" fill="#000" font-family='"DejaVu Sans", "Liberation Sans", sans-serif' font-weight="bold" >−60</text>
<line x1="115.10" y1="1102.40" x2="115.10" y2="1105.00" stroke="#222" stroke-width="1.0" />
<line x1="261.70" y1="1102.40" x2="261.70" y2="1105.00" stroke="#222" stroke-width="1.0" />
<text x="115.10" y="1115.30" font-size="10.7" text-anchor="middle" fill="#ff33cc" font-family='"DejaVu Sans", "Liberation Sans", sans-serif' font-weight="bold" >Non-Hazy</text>
<text x="261.70" y="1115.30" font-size="10.7" text-anchor="middle" fill="#5686a6" font-family='"DejaVu Sans", "Liberation Sans", sans-serif' font-weight="bold" >Hazy</text>
<text x="188.20" y="1127.50" font-size="9.7" text-anchor="middle" fill="#000" font-family='"DejaVu Sans", "Liberation Sans", sans-serif' font-weight="bold" >Condition</text>
<text transform="translate(7.9,941.4) rotate(-90)" font-size="9.5" text-anchor="middle" font-family='"DejaVu Sans", "Liberation Sans", sans-serif' font-weight="bold">RH Bias</text>
<text x="188.20" y="778.20" font-size="8.67" text-anchor="middle" fill="#000" font-family='"DejaVu Sans", "Liberation Sans", sans-serif' font-weight="bold" >WRF RH Bias under Different Conditions</text>
<text x="14.70" y="773.40" font-size="14.6" text-anchor="start" fill="#6a0dff" font-family='"DejaVu Sans", "Liberation Sans", sans-serif' font-weight="bold" letter-spacing="0.3">(c)</text>
<text x="44.60" y="1023.70" font-size="13.8" text-anchor="start" fill="#000" font-family='"Liberation Sans", sans-serif' font-weight="bold" >Mean RH Bias</text>
<text x="47.60" y="1042.70" font-size="13.8" text-anchor="start" fill="#ff33cc" font-family='"Liberation Sans", sans-serif' font-weight="bold" xml:space="preserve">Non Hazy :&#160;&#160; -3.0</text>
<text x="47.60" y="1059.50" font-size="13.8" text-anchor="start" fill="#5686a6" font-family='"Liberation Sans", sans-serif' font-weight="bold" xml:space="preserve">Hazy:&#160; -30.1&#177; 8.3</text>
<line x1="450.40" y1="831.80" x2="472.80" y2="831.80" stroke="#393939" stroke-width="1.3" />
<line x1="450.40" y1="846.90" x2="472.80" y2="846.90" stroke="#393939" stroke-width="1.3" />
<rect x="439.4" y="833.2" width="44.5" height="12.6" fill="#4b9e49" stroke="#393939" stroke-width="1.35"/>
<line x1="439.40" y1="834.00" x2="483.90" y2="834.00" stroke="#393939" stroke-width="1.1" />
<circle cx="455.20" cy="833.0" r="0.9" fill="#111"/>
<circle cx="466.50" cy="833.0" r="0.9" fill="#111"/>
<circle cx="473.20" cy="833.0" r="0.9" fill="#111"/>
<circle cx="455.20" cy="846.2" r="0.9" fill="#111"/>
<circle cx="459.50" cy="846.2" r="0.9" fill="#111"/>
<circle cx="467.40" cy="846.2" r="0.9" fill="#111"/>
<circle cx="471.90" cy="846.2" r="0.9" fill="#111"/>
<line x1="608.30" y1="1006.80" x2="608.30" y2="1040.80" stroke="#393939" stroke-width="1.35" />
<line x1="608.30" y1="1087.20" x2="608.30" y2="1100.00" stroke="#393939" stroke-width="1.35" />
<line x1="596.80" y1="1006.80" x2="619.90" y2="1006.80" stroke="#393939" stroke-width="1.35" />
<line x1="596.80" y1="1100.00" x2="619.90" y2="1100.00" stroke="#393939" stroke-width="1.35" />
<rect x="586.3" y="1040.8" width="44.3" height="46.4" fill="#c13c45" stroke="#393939" stroke-width="1.35"/>
<line x1="586.30" y1="1066.40" x2="630.60" y2="1066.40" stroke="#393939" stroke-width="1.35" />
<circle cx="594.69" cy="1013.30" r="0.95" fill="#111" fill-opacity="0.8"/>
<circle cx="601.00" cy="1019.96" r="0.95" fill="#111" fill-opacity="0.8"/>
<circle cx="597.67" cy="1023.46" r="0.95" fill="#111" fill-opacity="0.8"/>
<circle cx="606.95" cy="1020.48" r="0.95" fill="#111" fill-opacity="0.8"/>
<circle cx="608.35" cy="1025.91" r="0.95" fill="#111" fill-opacity="0.8"/>
<circle cx="613.96" cy="1019.26" r="0.95" fill="#111" fill-opacity="0.8"/>
<circle cx="620.62" cy="1031.35" r="0.95" fill="#111" fill-opacity="0.8"/>
<circle cx="616.94" cy="1040.98" r="0.95" fill="#111" fill-opacity="0.8"/>
<circle cx="611.86" cy="1045.89" r="0.95" fill="#111" fill-opacity="0.8"/>
<circle cx="618.69" cy="1048.34" r="0.95" fill="#111" fill-opacity="0.8"/>
<circle cx="621.84" cy="1048.34" r="0.95" fill="#111" fill-opacity="0.8"/>
<circle cx="600.64" cy="1053.07" r="0.95" fill="#111" fill-opacity="0.8"/>
<circle cx="605.20" cy="1053.59" r="0.95" fill="#111" fill-opacity="0.8"/>
<circle cx="606.95" cy="1061.65" r="0.95" fill="#111" fill-opacity="0.8"/>
<circle cx="612.38" cy="1065.86" r="0.95" fill="#111" fill-opacity="0.8"/>
<circle cx="620.27" cy="1066.56" r="0.95" fill="#111" fill-opacity="0.8"/>
<circle cx="597.84" cy="1072.87" r="0.95" fill="#111" fill-opacity="0.8"/>
<circle cx="600.29" cy="1077.07" r="0.95" fill="#111" fill-opacity="0.8"/>
<circle cx="610.81" cy="1076.55" r="0.95" fill="#111" fill-opacity="0.8"/>
<circle cx="609.58" cy="1079.35" r="0.95" fill="#111" fill-opacity="0.8"/>
<circle cx="602.05" cy="1082.33" r="0.95" fill="#111" fill-opacity="0.8"/>
<circle cx="612.03" cy="1081.98" r="0.95" fill="#111" fill-opacity="0.8"/>
<circle cx="617.64" cy="1084.78" r="0.95" fill="#111" fill-opacity="0.8"/>
<circle cx="610.98" cy="1086.88" r="0.95" fill="#111" fill-opacity="0.8"/>
<circle cx="602.40" cy="1090.04" r="0.95" fill="#111" fill-opacity="0.8"/>
<circle cx="603.27" cy="1092.14" r="0.95" fill="#111" fill-opacity="0.8"/>
<circle cx="597.49" cy="1093.01" r="0.95" fill="#111" fill-opacity="0.8"/>
<circle cx="596.79" cy="1096.69" r="0.95" fill="#111" fill-opacity="0.8"/>
<circle cx="602.57" cy="1096.52" r="0.95" fill="#111" fill-opacity="0.8"/>
<circle cx="610.81" cy="1095.82" r="0.95" fill="#111" fill-opacity="0.8"/>
<circle cx="616.06" cy="1006.82" r="0.95" fill="#111" fill-opacity="0.8"/>
<circle cx="616.06" cy="1100.02" r="0.95" fill="#111" fill-opacity="0.8"/>
<rect x="388.5" y="781.4" width="293.00" height="320.40" fill="none" stroke="#7c7c7c" stroke-width="1.0"/>
<line x1="385.10" y1="781.40" x2="387.90" y2="781.40" stroke="#222" stroke-width="1.0" />
<text x="383.10" y="785.50" font-size="10.9" text-anchor="end" fill="#000" font-family='"DejaVu Sans", "Liberation Sans", sans-serif' font-weight="bold" >0</text>
<line x1="385.10" y1="834.79" x2="387.90" y2="834.79" stroke="#222" stroke-width="1.0" />
<text x="383.10" y="838.89" font-size="10.9" text-anchor="end" fill="#000" font-family='"DejaVu Sans", "Liberation Sans", sans-serif' font-weight="bold" >−10</text>
<line x1="385.10" y1="888.18" x2="387.90" y2="888.18" stroke="#222" stroke-width="1.0" />
<text x="383.10" y="892.28" font-size="10.9" text-anchor="end" fill="#000" font-family='"DejaVu Sans", "Liberation Sans", sans-serif' font-weight="bold" >−20</text>
<line x1="385.10" y1="941.57" x2="387.90" y2="941.57" stroke="#222" stroke-width="1.0" />
<text x="383.10" y="945.67" font-size="10.9" text-anchor="end" fill="#000" font-family='"DejaVu Sans", "Liberation Sans", sans-serif' font-weight="bold" >−30</text>
<line x1="385.10" y1="994.96" x2="387.90" y2="994.96" stroke="#222" stroke-width="1.0" />
<text x="383.10" y="999.06" font-size="10.9" text-anchor="end" fill="#000" font-family='"DejaVu Sans", "Liberation Sans", sans-serif' font-weight="bold" >−40</text>
<line x1="385.10" y1="1048.35" x2="387.90" y2="1048.35" stroke="#222" stroke-width="1.0" />
<text x="383.10" y="1052.45" font-size="10.9" text-anchor="end" fill="#000" font-family='"DejaVu Sans", "Liberation Sans", sans-serif' font-weight="bold" >−50</text>
<line x1="385.10" y1="1101.74" x2="387.90" y2="1101.74" stroke="#222" stroke-width="1.0" />
<text x="383.10" y="1105.84" font-size="10.9" text-anchor="end" fill="#000" font-family='"DejaVu Sans", "Liberation Sans", sans-serif' font-weight="bold" >−60</text>
<line x1="461.70" y1="1102.40" x2="461.70" y2="1105.00" stroke="#222" stroke-width="1.0" />
<line x1="608.40" y1="1102.40" x2="608.40" y2="1105.00" stroke="#222" stroke-width="1.0" />
<text x="461.70" y="1115.30" font-size="10.7" text-anchor="middle" fill="#ff33cc" font-family='"DejaVu Sans", "Liberation Sans", sans-serif' font-weight="bold" >Non-Hazy</text>
<text x="608.40" y="1115.30" font-size="10.7" text-anchor="middle" fill="#5686a6" font-family='"DejaVu Sans", "Liberation Sans", sans-serif' font-weight="bold" >Hazy</text>
<text x="534.90" y="1127.50" font-size="9.7" text-anchor="middle" fill="#000" font-family='"DejaVu Sans", "Liberation Sans", sans-serif' font-weight="bold" >Condition</text>
<text transform="translate(351.7,941.3) rotate(-90)" font-size="9.7" text-anchor="middle" font-family='"DejaVu Sans", "Liberation Sans", sans-serif' font-weight="bold">Underestimation (%)</text>
<text x="535.40" y="767.20" font-size="9.66" text-anchor="middle" fill="#000" font-family='"DejaVu Sans", "Liberation Sans", sans-serif' font-weight="bold" >WRF PM2.5 Underestimation under</text>
<text x="535.60" y="778.00" font-size="9.66" text-anchor="middle" fill="#000" font-family='"DejaVu Sans", "Liberation Sans", sans-serif' font-weight="bold" >Different Conditions</text>
<text x="391.6" y="1023.6" font-size="13.65" fill="#000" font-family='"Liberation Sans", sans-serif' font-weight="bold">Mean PM<tspan font-size="11.9" dy="3.1">2.5</tspan><tspan dy="-3.1"> underestimation</tspan></text>
<text x="391.80" y="1042.70" font-size="13.8" text-anchor="start" fill="#ff33cc" font-family='"Liberation Sans", sans-serif' font-weight="bold" >Non Hazy : -10.8&#177; 1.2</text>
<text x="391.80" y="1059.50" font-size="13.8" text-anchor="start" fill="#5686a6" font-family='"Liberation Sans", sans-serif' font-weight="bold" >Hazy: -52.6&#177; 5.5</text>
</svg>
</body></html>
